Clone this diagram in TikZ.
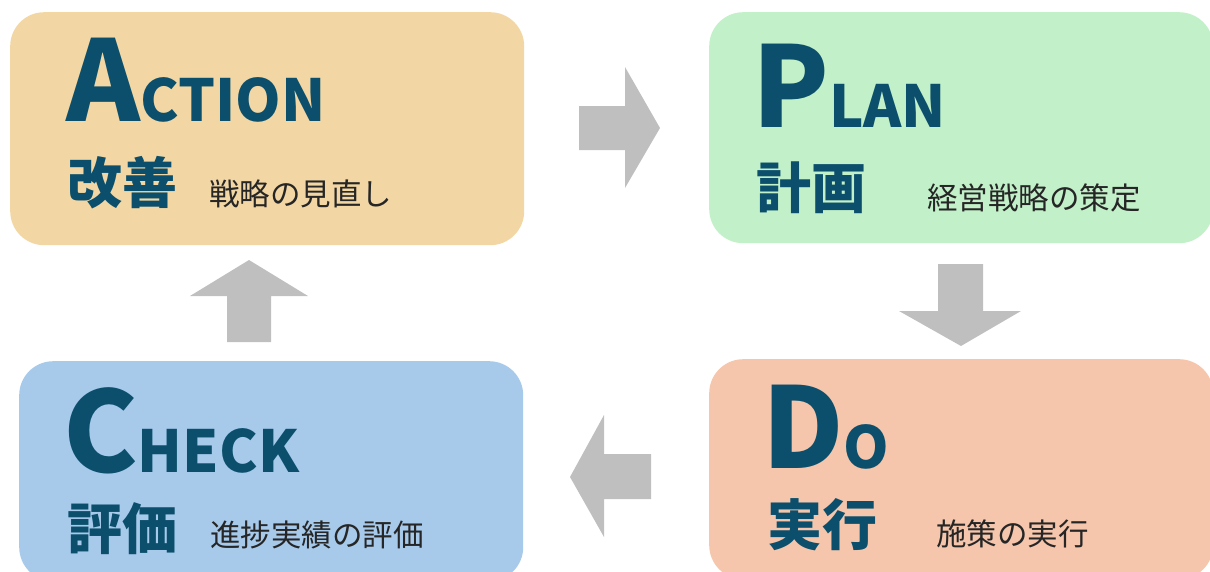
\documentclass[tikz,border=0pt]{standalone}
\usepackage{fontspec}
\setmainfont{Noto Sans CJK JP}
\definecolor{actfill}{HTML}{F2D7A4}
\definecolor{planfill}{HTML}{C2F0C8}
\definecolor{chkfill}{HTML}{A7CAEB}
\definecolor{dofill}{HTML}{F5C6AC}
\definecolor{arrowgray}{HTML}{BFBFBF}
\definecolor{headc}{HTML}{0B4F6C}
\definecolor{subc}{HTML}{262626}
\newcommand{\pdcaword}[2]{{\fontsize{112}{112}\selectfont #1}{\fontsize{58}{58}\selectfont #2}}
\begin{document}
\begin{tikzpicture}[x=1pt,y=-1pt,
  panel/.style={rounded corners=34pt, inner sep=0pt, anchor=north west},
  title/.style={anchor=base west, inner sep=0pt, text=headc, font=\bfseries},
  kanji/.style={anchor=base west, inner sep=0pt, text=headc, font=\fontsize{55}{55}\selectfont\bfseries},
  subt/.style={anchor=base west, inner sep=0pt, text=subc, font=\fontsize{30.5}{30.5}\selectfont},
  blockarrow/.style={fill=arrowgray}]
\useasboundingbox (0,0) rectangle (1210,571);
\clip (0,0) rectangle (1210,571);
% panels
\node[panel, fill=actfill, minimum width=514pt, minimum height=233pt] (act) at (10,12) {};
\node[panel, fill=planfill, minimum width=504pt, minimum height=231pt] (plan) at (709,12) {};
\node[panel, fill=chkfill, minimum width=504pt, minimum height=220pt] (chk) at (19,361) {};
\node[panel, fill=dofill, minimum width=504pt, minimum height=220pt] (do) at (709,359) {};
% ACTION
\node[title] (acttitle) at (66,121) {\pdcaword{A}{CTION}};
\node[kanji] (actkanji) at (67,203) {改善};
\node[subt] (actsub) at (209,205) {戦略の見直し};
% PLAN
\node[title] (plantitle) at (752,127) {\pdcaword{P}{LAN}};
\node[kanji] (plankanji) at (756,208) {計画};
\node[subt] (plansub) at (927,209) {経営戦略の策定};
% CHECK
\node[title] (chktitle) at (63,472) {\pdcaword{C}{HECK}};
\node[kanji] (chkkanji) at (67,549) {評価};
\node[subt] (chksub) at (210,546) {進捗実績の評価};
% DO
\node[title] (dotitle) at (762,468) {\pdcaword{D}{O}};
\node[kanji] (dokanji) at (767,545) {実行};
\node[subt] (dosub) at (936,545) {施策の実行};
% block arrows
\fill[blockarrow] (579,106) -- (625,106) -- (625,67) -- (660,128) -- (625,188) -- (625,150) -- (579,150) -- cycle;
\fill[blockarrow] (938,264) -- (983,264) -- (983,311) -- (1021,311) -- (961,346) -- (899,311) -- (938,311) -- cycle;
\fill[blockarrow] (651,454) -- (604,454) -- (604,415) -- (570,477) -- (604,537) -- (604,499) -- (651,499) -- cycle;
\fill[blockarrow] (227,342) -- (227,296) -- (190,296) -- (249,260) -- (308,296) -- (271,296) -- (271,342) -- cycle;
\end{tikzpicture}
\end{document}
